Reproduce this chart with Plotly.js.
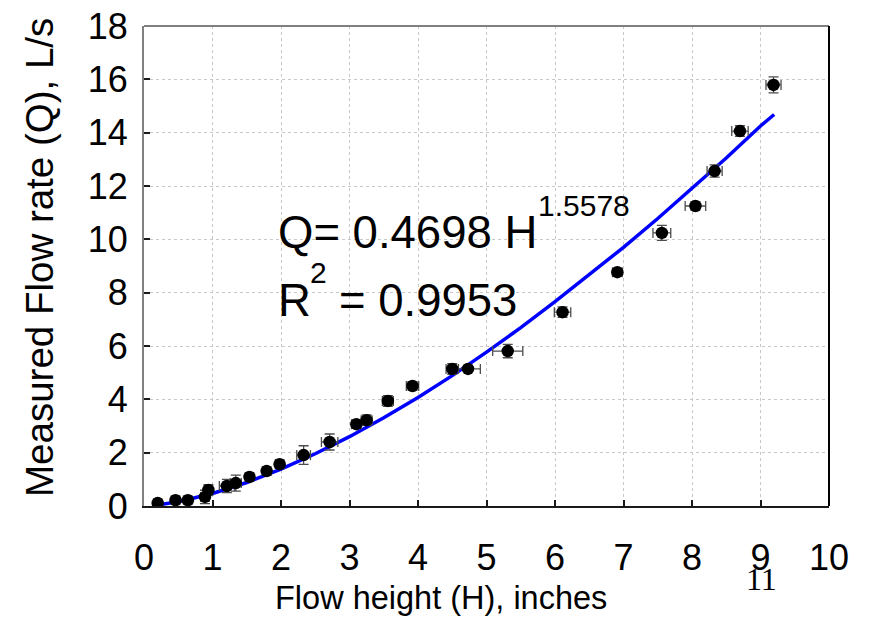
<!DOCTYPE html>
<html>
<head>
<meta charset="utf-8">
<script src="https://cdn.plot.ly/plotly-3.0.1.min.js"></script>
<style>html,body{margin:0;padding:0;background:#fff;}#chart{width:869px;height:636px;}</style>
</head>
<body>
<div id="chart"></div>
<script>
// Measured data (flow height H in inches, flow rate Q in L/s)
const heightH = [0.20, 0.46, 0.64, 0.89, 0.94, 1.21, 1.34, 1.54, 1.79, 1.98, 2.33, 2.71, 3.10, 3.25, 3.56, 3.92, 4.50, 4.73, 5.31, 6.11, 6.91, 7.56, 8.05, 8.33, 8.70, 9.19];
const flowQ   = [0.11, 0.22, 0.22, 0.34, 0.60, 0.75, 0.86, 1.09, 1.31, 1.57, 1.91, 2.40, 3.07, 3.22, 3.94, 4.50, 5.14, 5.14, 5.81, 7.27, 8.77, 10.24, 11.25, 12.56, 14.06, 15.79];
const errH    = [0.05, 0.05, 0.05, 0.06, 0.06, 0.11, 0.08, 0.06, 0.06, 0.06, 0.10, 0.12, 0.07, 0.08, 0.08, 0.09, 0.09, 0.18, 0.22, 0.12, 0.07, 0.13, 0.15, 0.11, 0.12, 0.11];
const errQ    = [0.15, 0.15, 0.15, 0.25, 0.20, 0.25, 0.30, 0.10, 0.15, 0.15, 0.35, 0.30, 0.15, 0.20, 0.20, 0.15, 0.20, 0.10, 0.25, 0.20, 0.12, 0.28, 0.15, 0.23, 0.20, 0.30];

// Fitted power-law curve Q = 0.4698 H^1.5578
const fitH = [0.2, 0.5, 1.0, 1.5, 2.0, 2.5, 3.0, 3.5, 4.0, 4.5, 5.0, 5.5, 6.0, 6.5, 7.0, 7.5, 8.0, 8.5, 9.0, 9.2];
const fitQ = [0.04, 0.16, 0.47, 0.88, 1.38, 1.96, 2.60, 3.31, 4.07, 4.89, 5.77, 6.69, 7.66, 8.67, 9.70, 10.78, 11.90, 13.05, 14.25, 14.68];

const xTicks = [0,1,2,3,4,5,6,7,8,9,10];
const yTicks = [0,2,4,6,8,10,12,14,16,18];

const FONT = 'Liberation Sans, Arial, sans-serif';

const traces = [
  {
    x: fitH, y: fitQ, type: 'scatter', mode: 'lines',
    line: {color: '#0000ff', width: 3.5},
    hoverinfo: 'skip', showlegend: false
  },
  {
    x: heightH, y: flowQ, type: 'scatter', mode: 'markers',
    marker: {color: '#000000', size: 12.5},
    error_x: {type: 'data', array: errH, visible: true, color: '#4d4d4d', thickness: 1.3, width: 5},
    error_y: {type: 'data', array: errQ, visible: true, color: '#4d4d4d', thickness: 1.3, width: 5},
    showlegend: false
  }
];

const layout = {
  width: 869, height: 636,
  margin: {l: 144, r: 40, t: 26, b: 130, pad: 0},
  paper_bgcolor: '#ffffff', plot_bgcolor: '#ffffff',
  font: {family: FONT, color: '#000000', size: 32},
  showlegend: false,
  xaxis: {
    range: [0, 10], tickvals: xTicks, ticktext: xTicks.map(String),
    showgrid: true, gridcolor: '#c8c8c8', griddash: 'dot', gridwidth: 1,
    zeroline: false, showline: true, linecolor: '#1a1a1a', linewidth: 2,
    ticks: 'inside', ticklen: 6, tickcolor: '#1a1a1a', tickwidth: 2,
    tickfont: {family: FONT, size: 36, color: '#000'}, ticklabelstandoff: 19
  },
  yaxis: {
    range: [0, 18], tickvals: yTicks, ticktext: yTicks.map(String),
    showgrid: true, gridcolor: '#c8c8c8', griddash: 'dot', gridwidth: 1,
    zeroline: false, showline: true, linecolor: '#808080', linewidth: 2,
    ticks: 'inside', ticklen: 6, tickcolor: '#1a1a1a', tickwidth: 2,
    tickfont: {family: FONT, size: 36, color: '#000'}, ticklabelstandoff: 7
  },
  shapes: [
    {type: 'line', xref: 'paper', yref: 'paper', x0: 0, x1: 1, y0: 1, y1: 1, line: {color: '#808080', width: 2}},
    {type: 'line', xref: 'paper', yref: 'paper', x0: 1, x1: 1, y0: 0, y1: 1, line: {color: '#000000', width: 2}}
  ],
  annotations: [
    {xref: 'x', yref: 'y', x: 1.92, y: 10.24, xanchor: 'left', yanchor: 'middle', showarrow: false,
     text: 'Q= 0.4698 H', font: {family: FONT, size: 45.5, color: '#000'}},
    {xref: 'x', yref: 'y', x: 5.72, y: 11.28, xanchor: 'left', yanchor: 'middle', showarrow: false,
     text: '1.5578', font: {family: FONT, size: 30, color: '#000'}},
    {xref: 'x', yref: 'y', x: 1.92, y: 7.69, xanchor: 'left', yanchor: 'middle', showarrow: false,
     text: 'R', font: {family: FONT, size: 45.5, color: '#000'}},
    {xref: 'x', yref: 'y', x: 2.39, y: 8.77, xanchor: 'left', yanchor: 'middle', showarrow: false,
     text: '2', font: {family: FONT, size: 30, color: '#000'}},
    {xref: 'x', yref: 'y', x: 2.82, y: 7.69, xanchor: 'left', yanchor: 'middle', showarrow: false,
     text: '= 0.9953', font: {family: FONT, size: 45.5, color: '#000'}},
    {xref: 'paper', yref: 'paper', x: 0.4336, y: -0.1917, xanchor: 'center', yanchor: 'middle', showarrow: false,
     text: 'Flow height (H), inches', font: {family: FONT, size: 32.5, color: '#000'}},
    {xref: 'paper', yref: 'paper', x: -0.1518, y: 0.5167, xanchor: 'center', yanchor: 'middle', showarrow: false,
     textangle: -90, text: 'Measured Flow rate (Q), L/s', font: {family: FONT, size: 38.5, color: '#000'}},
    {xref: 'paper', yref: 'paper', x: 0.902, y: -0.152, xanchor: 'center', yanchor: 'middle', showarrow: false,
     text: '11', font: {family: 'Liberation Serif, Times New Roman, serif', size: 32, color: '#000'}}
  ]
};

Plotly.newPlot('chart', traces, layout, {displayModeBar: false, staticPlot: true});
</script>
</body>
</html>
